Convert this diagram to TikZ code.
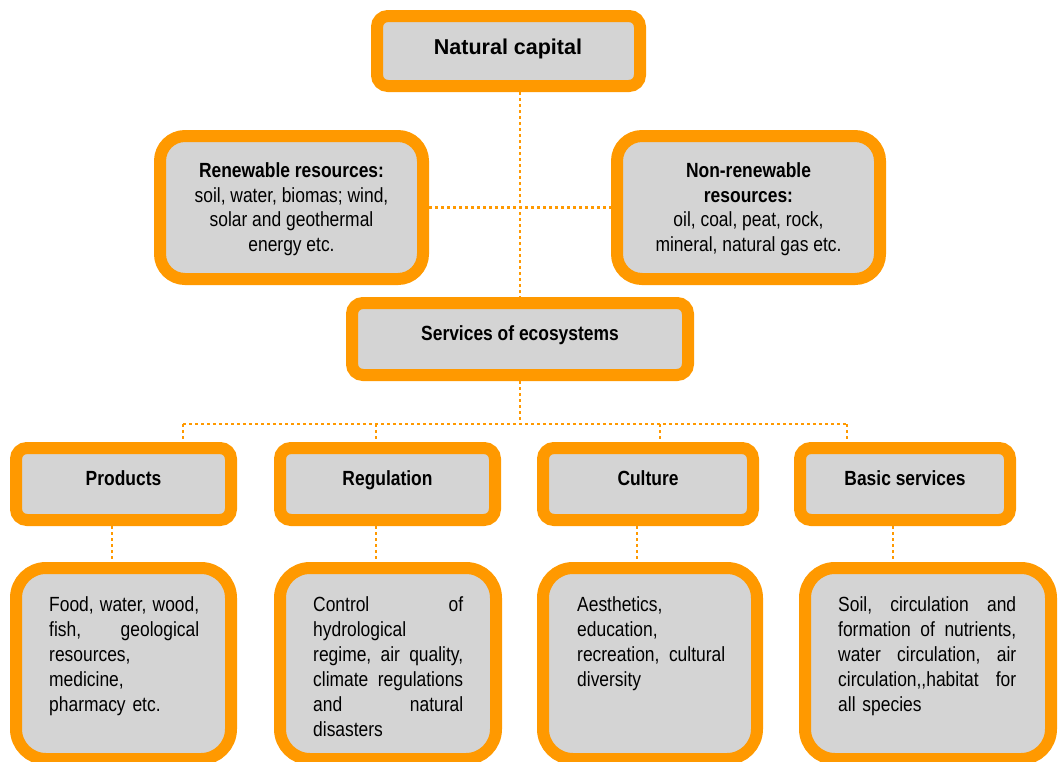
\documentclass[tikz,border=0pt]{standalone}
\usepackage{fontspec}
\setmainfont{Liberation Sans}
\newfontfamily\narrowfont[FakeStretch=0.85]{Liberation Sans}
\definecolor{orangeC}{HTML}{FF9900}
\definecolor{greyC}{HTML}{D4D4D4}
\tikzset{
  box/.style={draw=orangeC, fill=greyC, line width=12pt, inner sep=0pt, rounded corners=11pt},
  roundbox/.style={box, rounded corners=25pt},
  detailbox/.style={box, rounded corners=30pt},
  conn/.style={draw=orangeC, line width=2.5pt, dash pattern=on 2.5pt off 3.5pt},
  hdr/.style={font={\narrowfont\bfseries\fontsize{20.5}{24.6}\selectfont}, inner sep=0pt, anchor=base},
  body/.style={font={\narrowfont\fontsize{20.5}{24.6}\selectfont}, inner sep=0pt, anchor=north, align=center},
  detail/.style={font={\narrowfont\fontsize{20.5}{25}\selectfont}, inner sep=0pt, anchor=north west, align=left},
}
\begin{document}
\begin{tikzpicture}[x=1pt,y=-1pt]
\useasboundingbox (0,0) rectangle (1058,761);
\clip (0,0) rectangle (1058,761);

% boxes
\node[box, minimum width=263pt, minimum height=70pt] (nat) at (508.5,51) {};
\node[roundbox, minimum width=263pt, minimum height=143pt] (ren) at (291.5,207.5) {};
\node[roundbox, minimum width=263pt, minimum height=143pt] (non) at (748.5,207.5) {};
\node[box, minimum width=336pt, minimum height=72pt] (svc) at (520,339) {};
\node[box, minimum width=215pt, minimum height=72pt] (prod) at (123.5,484) {};
\node[box, minimum width=215pt, minimum height=72pt] (reg) at (387.5,484) {};
\node[box, minimum width=210pt, minimum height=72pt] (cult) at (648,484) {};
\node[box, minimum width=210pt, minimum height=72pt] (basic) at (905,484) {};
\node[detailbox, minimum width=215pt, minimum height=191pt] (dprod) at (123.5,663.5) {};
\node[detailbox, minimum width=216pt, minimum height=191pt] (dreg) at (388,663.5) {};
\node[detailbox, minimum width=214pt, minimum height=191pt] (dcult) at (650,663.5) {};
\node[detailbox, minimum width=246pt, minimum height=191pt] (dbasic) at (928,663.5) {};

% texts
\node[hdr, font={\bfseries\fontsize{21.5}{25}\selectfont}] (natT) at (508,54) {Natural capital};
\node[body] (renT) at (291.5,162.5) {\bfseries Renewable resources:\\ soil, water, biomas; wind,\\ solar and geothermal\\ energy etc.};
\node[body] (nonT) at (748.5,162.5) {\bfseries Non-renewable\\ \bfseries resources:\\ oil, coal, peat, rock,\\ mineral, natural gas etc.};
\node[hdr] (svcT) at (520,340.5) {Services of ecosystems};
\node[hdr] (prodT) at (123.5,485) {Products};
\node[hdr] (regT) at (387.5,485) {Regulation};
\node[hdr] (cultT) at (648,485) {Culture};
\node[hdr] (basicT) at (905,485) {Basic services};

\node[detail, text width=150pt] (dprodT) at (49,596.5) {Food,\hfill water,\hfill wood,\\ fish,\hfill geological\\ resources,\\ medicine,\\ pharmacy etc.};
\node[detail, text width=150pt] (dregT) at (313,596.5) {Control\hfill of\\ hydrological\\ regime,\hfill air\hfill quality,\\ climate\hfill regulations\\ and\hfill natural\\ disasters};
\node[detail, text width=148pt] (dcultT) at (577,596.5) {Aesthetics,\\ education,\\ recreation,\hfill cultural\\ diversity};
\node[detail, text width=178pt] (dbasicT) at (838,596.5) {Soil,\hfill circulation\hfill and\\ formation\hfill of\hfill nutrients,\\ water\hfill circulation,\hfill air\\ circulation,,habitat\hfill for\\ all species};

% connector coordinates
\coordinate (spine) at (520,207.5);
\coordinate (hb) at (520,424);
\coordinate (bP) at (183,424);
\coordinate (bR) at (376,424);
\coordinate (bC) at (660,424);
\coordinate (bB) at (847,424);
\coordinate (lP) at (112,0);
\coordinate (lR) at (376,0);
\coordinate (lC) at (637,0);
\coordinate (lB) at (893,0);

% connectors
\draw[conn] (nat.south -| spine) -- (svc.north);
\draw[conn] (ren.east) -- (non.west);
\draw[conn] (svc.south) -- (hb);
\draw[conn] (bP) -- (bB);
\draw[conn] (bP) -- (bP |- prod.north);
\draw[conn] (bR) -- (bR |- reg.north);
\draw[conn] (bC) -- (bC |- cult.north);
\draw[conn] (bB) -- (bB |- basic.north);
\draw[conn] (prod.south -| lP) -- (dprod.north -| lP);
\draw[conn] (reg.south -| lR) -- (dreg.north -| lR);
\draw[conn] (cult.south -| lC) -- (dcult.north -| lC);
\draw[conn] (basic.south -| lB) -- (dbasic.north -| lB);
\end{tikzpicture}
\end{document}
